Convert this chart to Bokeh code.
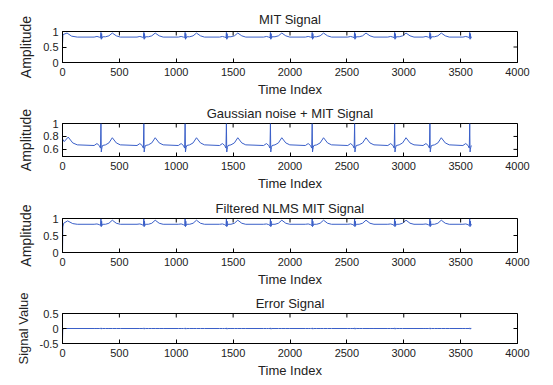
import math
from bokeh.plotting import figure
from bokeh.layouts import column
from bokeh.models import FixedTicker
from bokeh.embed import file_html
from bokeh.resources import INLINE

# ---------------- data ----------------
n_samples = 3600
r_peaks = [338, 715, 1078, 1441, 1828, 2195, 2568, 2920, 3230, 3580]

beat_offsets = [-60, -35, -15, -4, 0, 3, 6, 9, 14, 40, 70, 100, 135, 170]

mit_start_x = [0, 4, 40, 80, 130]
mit_start_y = [0.60, 0.90, 0.95, 0.85, 0.82]
mit_shape = [0.82, 0.84, 0.82, 0.80, 0.97, 0.75, 0.93, 0.78, 0.83, 0.83, 0.86, 0.95, 0.86, 0.82]

noisy_start_x = [0, 15, 50, 90, 130]
noisy_start_y = [0.76, 0.72, 0.79, 0.70, 0.67]
noisy_shape = [0.66, 0.69, 0.66, 0.62, 1.00, 0.56, 0.60, 0.63, 0.66, 0.67, 0.70, 0.78, 0.70, 0.67]

filt_start_x = [0, 3, 10, 45, 90, 130]
filt_start_y = [0.00, 0.75, 0.86, 0.93, 0.85, 0.83]
filt_shape = [0.83, 0.84, 0.82, 0.79, 0.99, 0.76, 0.92, 0.79, 0.83, 0.83, 0.86, 0.95, 0.86, 0.83]

err_start_x = [0, 2, 6, 30]
err_start_y = [-0.35, -0.05, 0.0, 0.0]
err_shape = [0.0, 0.0, 0.0, 0.0, 0.02, -0.02, 0.01, -0.01, 0.0, 0.0, 0.0, 0.0, 0.0, 0.0]

x_ticks = [0, 500, 1000, 1500, 2000, 2500, 3000, 3500, 4000]

titles = ["MIT Signal", "Gaussian noise + MIT Signal", "Filtered NLMS MIT Signal", "Error Signal"]
y_labels = ["Amplitude", "Amplitude", "Amplitude", "Signal Value"]
y_label_sizes = ["14px", "14px", "14px", "13px"]
y_ranges = [(0, 1), (0.49, 1), (0, 1), (-0.5, 0.5)]
y_ticks = [[0, 0.5, 1], [0.6, 0.8, 1], [0, 0.5, 1], [-0.5, 0, 0.5]]
y_tick_labels = [["0", "0.5", "1"], ["0.6", "0.8", "1"], ["0", "0.5", "1"], ["-0.5", "0", "0.5"]]


def build(sx, sy, shape):
    xs = list(sx)
    ys = list(sy)
    for r in r_peaks:
        for o, v in zip(beat_offsets, shape):
            x = r + o
            if xs[-1] < x <= n_samples:
                xs.append(x)
                ys.append(v)
    return xs, ys


series = [
    build(mit_start_x, mit_start_y, mit_shape),
    build(noisy_start_x, noisy_start_y, noisy_shape),
    build(filt_start_x, filt_start_y, filt_shape),
    build(err_start_x, err_start_y, err_shape),
]

# ---------------- layout ----------------
FONT = "Liberation Sans"
TXT = "#222222"
LINE = "#3a5fc8"

# (border top, frame height, border bottom, title standoff)
heights = [(31, 31, 38, 10), (23, 33, 39, 6), (23, 34, 38, 6), (23, 30, 42, 6)]

figs = []
for i in range(4):
    top, fh, bot, tso = heights[i]
    x0, x1 = 0, 4000
    y0, y1 = y_ranges[i]
    p = figure(frame_width=455, frame_height=fh,
               x_range=(x0, x1), y_range=(y0, y1),
               output_backend="svg", toolbar_location=None,
               min_border_left=62, min_border_right=36,
               min_border_top=top, min_border_bottom=bot,
               title=titles[i])
    p.title.align = "center"
    p.title.text_font = FONT
    p.title.text_font_size = "13px"
    p.title.text_font_style = "normal"
    p.title.text_color = TXT
    p.title.standoff = tso
    p.title.offset = 0

    p.grid.visible = False
    p.background_fill_color = "white"
    p.border_fill_color = "white"
    p.outline_line_color = "black"
    p.outline_line_width = 1

    xs, ys = series[i]
    p.line(xs, ys, line_color=LINE, line_width=1)

    # inward ticks on the top and right edges
    p.ray(x=x_ticks, y=[y1] * len(x_ticks), length=4, angle=-math.pi / 2,
          length_units="screen", line_color="black", line_width=1)
    p.ray(x=[x1] * len(y_ticks[i]), y=y_ticks[i], length=4, angle=math.pi,
          length_units="screen", line_color="black", line_width=1)

    p.xaxis.ticker = FixedTicker(ticks=x_ticks)
    p.yaxis.ticker = FixedTicker(ticks=y_ticks[i])
    p.yaxis.major_label_overrides = {t: l for t, l in zip(y_ticks[i], y_tick_labels[i])}
    p.xaxis.axis_label = "Time Index"
    p.yaxis.axis_label = y_labels[i]
    for ax in (p.xaxis[0], p.yaxis[0]):
        ax.major_tick_in = 4
        ax.major_tick_out = 0
        ax.minor_tick_line_color = None
        ax.axis_line_color = "black"
        ax.major_tick_line_color = "black"
        ax.major_label_text_font = FONT
        ax.major_label_text_font_size = "11px"
        ax.major_label_text_color = TXT
        ax.axis_label_text_font = FONT
        ax.axis_label_text_font_size = "13px"
        ax.axis_label_text_font_style = "normal"
        ax.axis_label_text_color = TXT
    p.xaxis.major_label_standoff = 5
    p.xaxis.axis_label_standoff = 3
    p.yaxis.major_label_standoff = 4
    p.yaxis.axis_label_standoff = 6
    p.yaxis.axis_label_text_font_size = y_label_sizes[i]
    figs.append(p)

layout = column(*figs)
open("out.html", "w").write(file_html(layout, INLINE))
